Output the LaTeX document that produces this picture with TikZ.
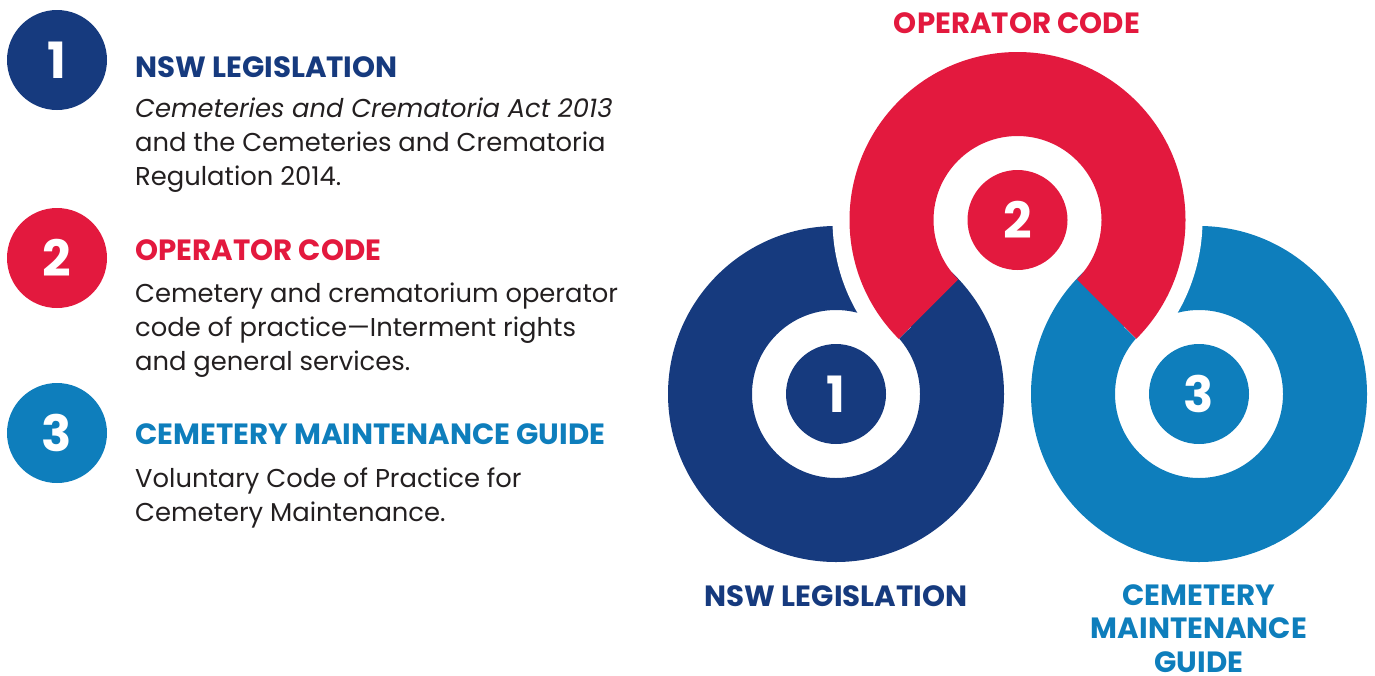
\documentclass[tikz,border=0pt]{standalone}
\usepackage{fontspec}
\setmainfont{Poppins}
\usetikzlibrary{positioning, calc}
\definecolor{navy}{RGB}{22, 58, 126}
\definecolor{crimson}{RGB}{227, 25, 62}
\definecolor{ocean}{RGB}{14, 126, 188}
\definecolor{charcoal}{RGB}{35, 31, 32}

\begin{document}
\begin{tikzpicture}[x=1pt, y=1pt,
        badge/.style={circle, minimum size=100pt, inner sep=0pt, text=white, font=\fontsize{50}{50}\selectfont\bfseries},
        heading/.style={anchor=base west, inner sep=0pt, font=\fontsize{29.3}{34}\selectfont\bfseries},
        blurb/.style={anchor=base west, inner sep=0pt, align=left, text=charcoal, font=\fontsize{25.8}{34}\selectfont},
        caption/.style={anchor=base, inner sep=0pt, align=center, text depth=0pt, font=\fontsize{29.3}{33.5}\selectfont\bfseries},
        ring/.style={even odd rule}
    ]
    \useasboundingbox (0,0) rectangle (1375,-675);

    % legend on the left (blurbs sit on their last baseline)
    \node[badge, fill=navy] (key1) at (57,-60) {1};
    \node[badge, fill=crimson] (key2) at (57,-258) {2};
    \node[badge, fill=ocean] (key3) at (57,-433) {3};

    \node[heading, text=navy] (head1) at (135,-77) {NSW LEGISLATION};
    \node[blurb] (text1) at (135,-185) {\textit{Cemeteries and Crematoria Act 2013}\\and the Cemeteries and Crematoria\\Regulation 2014.};
    \node[heading, text=crimson] (head2) at (135,-260) {OPERATOR CODE};
    \node[blurb] (text2) at (135,-370) {Cemetery and crematorium operator\\code of practice---Interment rights\\and general services.};
    \node[heading, text=ocean] (head3) at (135,-444) {CEMETERY MAINTENANCE GUIDE};
    \node[blurb] (text3) at (135,-521) {Voluntary Code of Practice for\\Cemetery Maintenance.};

    % the three linked rings
    \coordinate (c1) at (836,-394);
    \coordinate (c2) at (1017.5,-220);
    \coordinate (c3) at (1199,-394);

    \fill[navy, ring] (c1) circle (168) circle (84);
    \fill[ocean, ring] (c3) circle (168) circle (84);
    % white gap round the red ring
    \draw[white, line width=34] ($(c2)+(-45:168)$) arc[start angle=-45, end angle=225, radius=168];
    \fill[crimson] ($(c2)+(-45:168)$) arc[start angle=-45, end angle=225, radius=168]
        -- ($(c2)+(225:84)$) arc[start angle=225, end angle=-45, radius=84] -- cycle;

    \node[badge, fill=navy] (ring1) at (c1) {1};
    \node[badge, fill=crimson] (ring2) at (c2) {2};
    \node[badge, fill=ocean] (ring3) at (c3) {3};

    \node[caption, text=crimson] (cap2) at (1017,-33) {OPERATOR CODE};
    \node[caption, text=navy] (cap1) at (836,-606) {NSW LEGISLATION};
    \node[caption, text=ocean] (cap3) at (1199,-672) {CEMETERY\\MAINTENANCE\\GUIDE};
\end{tikzpicture}
\end{document}
